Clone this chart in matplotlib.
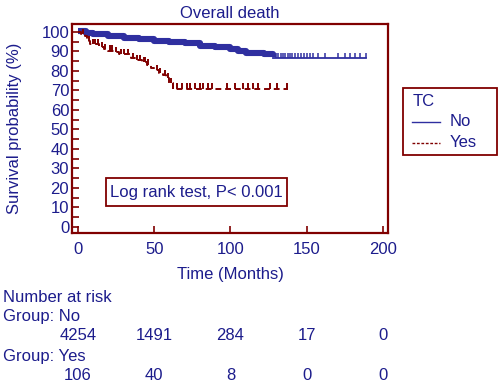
import numpy as np
import matplotlib
matplotlib.use("Agg")
import matplotlib.pyplot as plt
from matplotlib import transforms
from matplotlib.patches import Rectangle
from matplotlib.lines import Line2D

plt.rcParams['font.family'] = ['Liberation Sans', 'DejaVu Sans']

# Kaplan-Meier step points (months, survival %)
no_t = [0, 5, 10, 20, 30, 40, 50, 60, 70, 80, 90, 100, 105, 110, 122, 128, 189]
no_s = [100, 99, 98.5, 97.5, 96.5, 95.8, 95, 94.2, 93.5, 92.3, 91.5, 90.5, 89.5, 88.8, 88.3, 86.6, 86.6]
no_cens = [130, 131.5, 133, 134.5, 136, 137.5, 139, 140.5, 142, 144, 146, 148, 150, 152,
           154.3, 157.6, 162, 170.7, 175, 178.4, 181.6, 185, 188.9]

yes_t = [0, 2, 4.5, 6, 8, 14, 17, 20, 24, 27, 35, 38, 42, 45, 48, 50, 53, 56, 58, 60, 62, 138]
yes_s = [100, 99, 98, 95.5, 93.8, 92.5, 91.3, 90.5, 89.5, 88.5, 86.8, 85.5, 84.5, 83.3, 81.5,
         80.5, 79, 78, 76.5, 74, 71, 71]
yes_cens = [3, 7, 10, 11.5, 13, 15.5, 18, 21, 22.5, 25, 28, 30, 33, 36, 39, 41, 43, 44, 46,
            52, 54, 57, 59, 61, 62.5, 64.7, 68, 71.3, 73.4, 76.7, 80, 82.2, 85.5, 87.7, 97.5,
            103, 108.4, 111.7, 115, 118.2, 126, 130.3, 136.8]

risk_times = [0, 50, 100, 150, 200]
risk_no = [4254, 1491, 284, 17, 0]
risk_yes = [106, 40, 8, 0, 0]

navy = '#1c1c8c'
blue = '#2f2fa0'
maroon = '#800000'
fs = 12

fig = plt.figure(figsize=(5.0, 3.89), dpi=100)
ax = fig.add_axes([72 / 500, 1 - 233 / 389, 316 / 500, 209 / 389])


def surv_at(ts, ss, x):
    idx = np.searchsorted(ts, x, side='right') - 1
    return np.array(ss)[idx]


# No group: thick band where censoring is dense, thin afterwards
nt = np.array(no_t)
ns = np.array(no_s)
cut = nt <= 128
ax.step(nt[cut], ns[cut] + 0.6, where='post', color=blue, lw=4.4, solid_capstyle='butt')
ax.step(nt[nt >= 128], ns[nt >= 128], where='post', color=blue, lw=1.3)
ax.vlines(no_cens, surv_at(no_t, no_s, no_cens), surv_at(no_t, no_s, no_cens) + 2.6,
          color=blue, lw=1.1)

# Yes group
ax.step(yes_t, yes_s, where='post', color=maroon, lw=1.4, dashes=(3, 2))
ax.vlines(yes_cens, surv_at(yes_t, yes_s, yes_cens), surv_at(yes_t, yes_s, yes_cens) + 2.6,
          color=maroon, lw=1.4)

ax.set_xlim(-3.9, 203.3)
ax.set_ylim(-3.1, 104.1)
ax.set_xticks(risk_times)
ax.set_yticks(range(0, 101, 10))
ax.set_yticks(range(5, 100, 10), minor=True)
for sp in ax.spines.values():
    sp.set_color(maroon)
    sp.set_linewidth(1.6)
ax.tick_params(which='both', direction='in', length=5, width=1.2, color=maroon,
               labelcolor=navy, labelsize=fs)
ax.tick_params(axis='y', pad=2)
ax.tick_params(axis='x', pad=6.5)
ax.set_xlabel('Time (Months)', color=navy, fontsize=fs, labelpad=7)
ax.set_ylabel('Survival probability (%)', color=navy, fontsize=fs, labelpad=14)
ax.set_title('Overall death', color=navy, fontsize=fs, pad=4)

# log rank box
fig.add_artist(Rectangle((106 / 500, 1 - 206 / 389), 181 / 500, 28 / 389,
                         transform=fig.transFigure, fill=False, ec=maroon, lw=1.3))
fig.text(196.5 / 500, 1 - 192 / 389, 'Log rank test, P< 0.001', color=navy, fontsize=fs,
         ha='center', va='center')

# legend
fig.add_artist(Rectangle((403 / 500, 1 - 155 / 389), 94 / 500, 67 / 389,
                         transform=fig.transFigure, fill=False, ec=maroon, lw=1.3))
fig.text(413 / 500, 1 - 102 / 389, 'TC', color=navy, fontsize=fs, va='center')
fig.add_artist(Line2D([412 / 500, 440 / 500], [1 - 122 / 389] * 2, color=blue, lw=1.0,
                      transform=fig.transFigure))
fig.add_artist(Line2D([412 / 500, 440 / 500], [1 - 143 / 389] * 2, color=maroon, lw=1.0,
                      dashes=(2, 1.2), transform=fig.transFigure))
fig.text(450 / 500, 1 - 122 / 389, 'No', color=navy, fontsize=fs, va='center')
fig.text(450 / 500, 1 - 142 / 389, 'Yes', color=navy, fontsize=fs, va='center')

# number at risk table
tr = transforms.blended_transform_factory(ax.transData, fig.transFigure)
fig.text(3 / 500, 1 - 297 / 389, 'Number at risk', color=navy, fontsize=fs, va='center')
fig.text(3 / 500, 1 - 317 / 389, 'Group: No', color=navy, fontsize=fs, va='center')
fig.text(3 / 500, 1 - 356 / 389, 'Group: Yes', color=navy, fontsize=fs, va='center')
for t, n1, n2 in zip(risk_times, risk_no, risk_yes):
    fig.text(t, 1 - 336 / 389, str(n1), transform=tr, color=navy, fontsize=fs,
             ha='center', va='center')
    fig.text(t, 1 - 375 / 389, str(n2), transform=tr, color=navy, fontsize=fs,
             ha='center', va='center')

fig.savefig('out.png', dpi=100)
